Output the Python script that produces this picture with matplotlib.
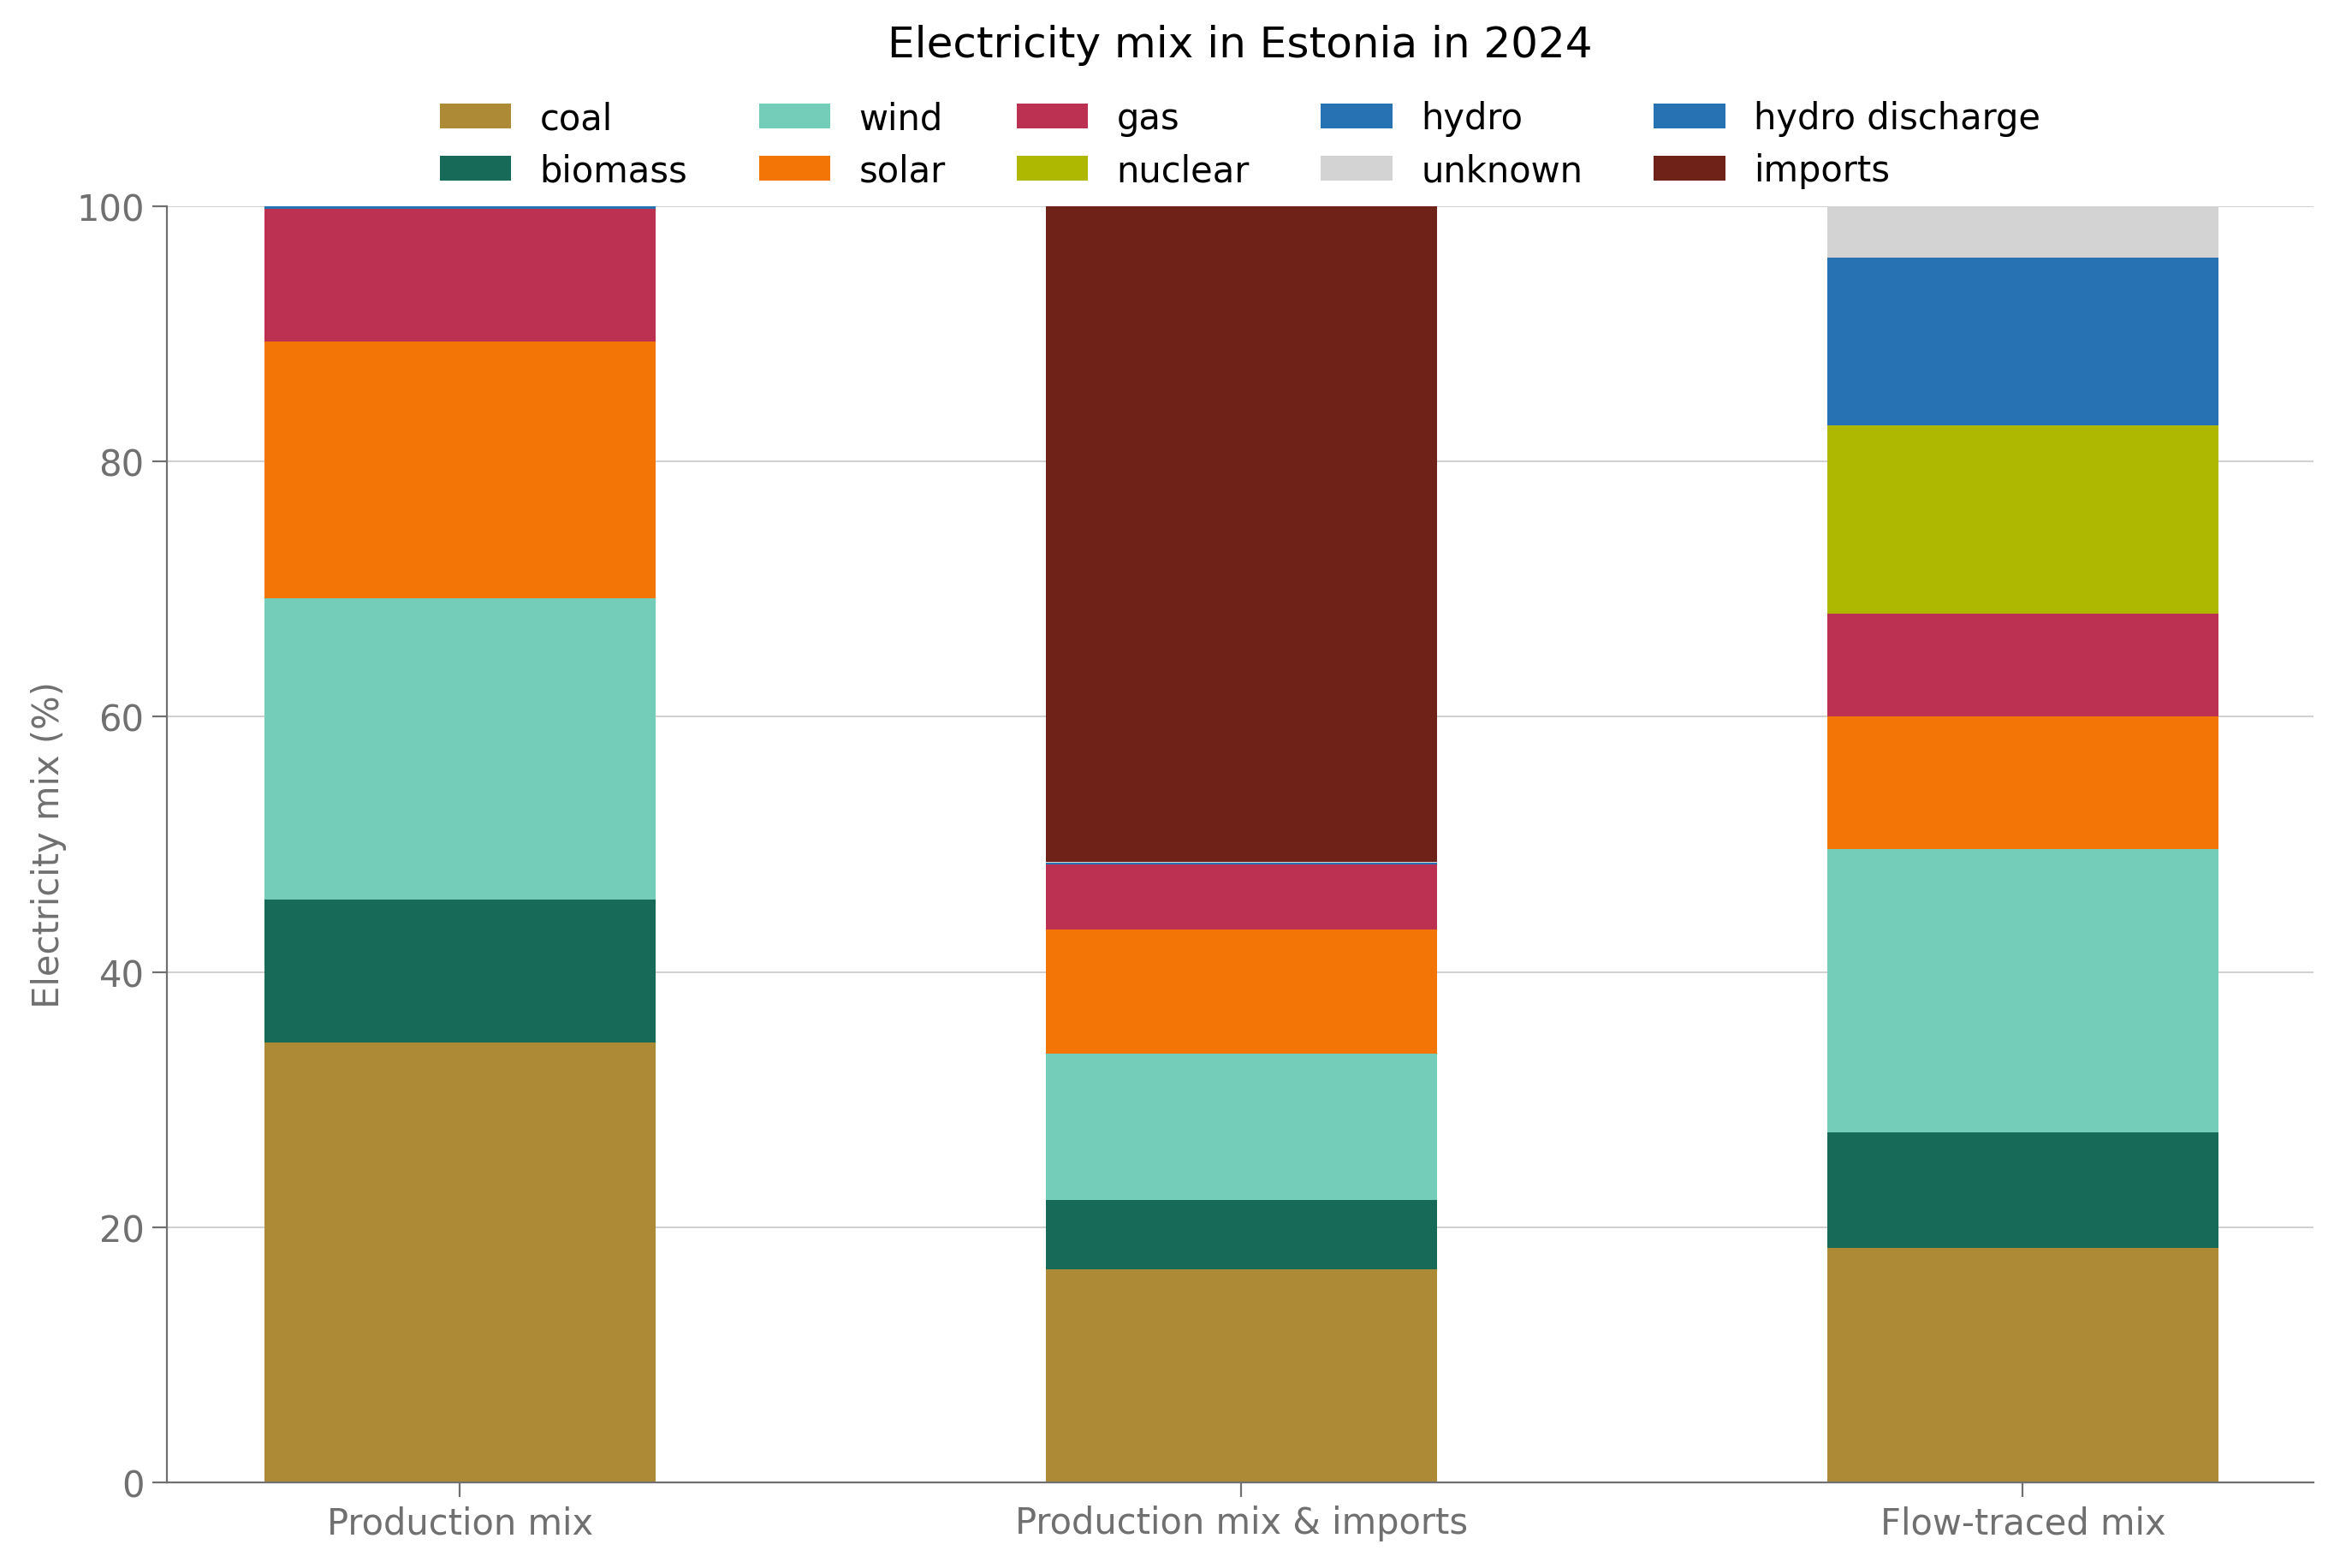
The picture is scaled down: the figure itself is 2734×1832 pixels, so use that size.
import matplotlib.pyplot as plt
import numpy as np

# data (percent of electricity mix)
mixes = ['Production mix', 'Production mix & imports', 'Flow-traced mix']
coal = [34.5, 16.7, 18.4]
biomass = [11.2, 5.4, 9.0]
wind = [23.6, 11.5, 22.2]
solar = [20.1, 9.7, 10.4]
gas = [10.4, 5.1, 8.1]
nuclear = [0.0, 0.0, 14.7]
hydro = [0.2, 0.15, 13.2]
hydro_discharge = [0.0, 0.0, 0.0]
unknown = [0.0, 0.05, 4.0]
imports = [0.0, 51.4, 0.0]

sources = ['coal', 'biomass', 'wind', 'solar', 'gas', 'nuclear',
           'hydro', 'unknown', 'hydro discharge', 'imports']
values = {'coal': coal, 'biomass': biomass, 'wind': wind, 'solar': solar,
          'gas': gas, 'nuclear': nuclear, 'hydro': hydro,
          'hydro discharge': hydro_discharge, 'unknown': unknown,
          'imports': imports}
colors = {'coal': '#ad8a35', 'biomass': '#186a58', 'wind': '#74cdb8',
          'solar': '#f27506', 'gas': '#bc3051', 'nuclear': '#afb800',
          'hydro': '#2772b2', 'hydro discharge': '#2772b2',
          'unknown': '#d3d3d3', 'imports': '#6f2217'}
# stacking order bottom -> top
stack_order = ['coal', 'biomass', 'wind', 'solar', 'gas', 'nuclear',
               'hydro', 'hydro discharge', 'unknown', 'imports']

grey = '#707070'
fig = plt.figure(figsize=(13.67, 9.165), dpi=200)
ax = fig.add_axes([0.0713, 0.0546, 0.9174, 0.8134])

x = np.arange(len(mixes))
bottom = np.zeros(len(mixes))
handles = {}
for s in stack_order:
    v = np.array(values[s])
    handles[s] = ax.bar(x, v, 0.5, bottom=bottom, color=colors[s], label=s, zorder=2)
    bottom += v

ax.set_xlim(-0.375, 2.372)
ax.set_ylim(0, 100)
ax.set_xticks(x)
ax.set_xticklabels(mixes)
ax.set_ylabel('Electricity mix (%)', color=grey, fontsize=15)
ax.set_title('Electricity mix in Estonia in 2024', fontsize=18, pad=63)
ax.yaxis.grid(True, color='#d0d0d0', linewidth=0.7, zorder=0)
ax.set_axisbelow(True)
for sp in ['top', 'right']:
    ax.spines[sp].set_visible(False)
for sp in ['left', 'bottom']:
    ax.spines[sp].set_color(grey)
ax.tick_params(colors=grey, labelsize=15, length=6)

ax.legend([handles[s] for s in sources], sources, ncol=5, frameon=False,
          loc='lower center', bbox_to_anchor=(0.5, 1.0), fontsize=15,
          columnspacing=2.0, handlelength=2.0, handletextpad=0.8,
          labelspacing=0.45, borderaxespad=0.1)

plt.savefig('out.png')
